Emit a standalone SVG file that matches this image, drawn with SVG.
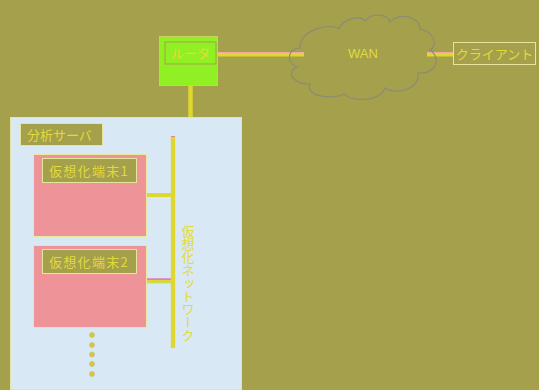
<svg xmlns="http://www.w3.org/2000/svg" width="539" height="390" viewBox="0 0 539 390">
<style>
.t{font-family:"Noto Sans CJK JP","Liberation Sans",sans-serif;font-size:13px;fill:#e2da3c;}
.lbl{fill:#a4a04c;stroke:#e4e49a;stroke-width:1;}
.vm{fill:#ee9499;stroke:#e8e8a0;stroke-width:1;}
.ln{stroke:#e0d630;fill:none;}
.dot{fill:#dcc82a;stroke:#b8b890;stroke-width:0.6;}
</style>
<rect width="539" height="390" fill="#a4a04c"/>
<g id="connectors">
<line class="ln" x1="218" y1="54.5" x2="304" y2="54.5" stroke-width="4"/>
<line x1="218" y1="52.5" x2="304" y2="52.5" stroke="#f0a8a0" stroke-width="1"/>
<line class="ln" x1="427" y1="54.5" x2="453" y2="54.5" stroke-width="4"/>
<line x1="427" y1="52.5" x2="453" y2="52.5" stroke="#f0a8a0" stroke-width="1"/>
<line class="ln" x1="190.5" y1="86" x2="190.5" y2="118" stroke-width="4.5"/>
</g>
<g id="router">
<rect x="159.5" y="36.5" width="58" height="49" fill="#90f024" stroke="#c8d060" stroke-width="1"/>
<rect x="165" y="42" width="51" height="22" fill="#90f024" stroke="#a4a04c" stroke-width="1"/>
<text class="t" x="190.5" y="58" text-anchor="middle">ルータ</text>
</g>
<g id="wan">
<path d="M300,48 C299,30 330,22 339,29 C343,18 362,15 365,21 C372,12 388,14 390,22 C398,12 420,16 420,29 C435,32 438,46 430,50 C442,58 436,75 418,73 C420,90 395,95 385,88 C380,102 350,102 345,94 C330,100 305,96 310,84 C290,84 287,70 297,67 C285,62 288,48 300,48 Z" fill="none" stroke="#8c8c74" stroke-width="1.2"/>
<text x="363" y="58" text-anchor="middle" font-family="Liberation Sans, Arial, sans-serif" font-size="13" fill="#e2da3c">WAN</text>
</g>
<g id="client">
<rect x="453.5" y="42.5" width="82" height="22" class="lbl"/>
<text class="t" x="494.5" y="58.5" text-anchor="middle" font-size="12">クライアント</text>
</g>
<g id="server">
<rect x="10.5" y="117.5" width="231" height="272" fill="#d8e8f4" stroke="#e4e4a8" stroke-width="1"/>
<rect x="20.5" y="123.5" width="82" height="22" class="lbl"/>
<text class="t" x="27" y="139.5">分析サーバ</text>
</g>
<g id="network">
<line class="ln" x1="146" y1="195" x2="172" y2="195" stroke-width="4"/>
<line class="ln" x1="146" y1="281" x2="172" y2="281" stroke-width="4"/>
<line x1="146" y1="279" x2="172" y2="279" stroke="#e048a8" stroke-width="1"/>
<line x1="146" y1="283" x2="172" y2="283" stroke="#a8e880" stroke-width="0.8"/>
<line class="ln" x1="173" y1="136" x2="173" y2="348" stroke-width="4.3"/>
<line x1="171" y1="136.5" x2="175" y2="136.5" stroke="#e08890" stroke-width="1"/>
<text class="t" x="188" y="225" font-size="12" style="writing-mode:vertical-rl;" letter-spacing="0">仮想化ネットワーク</text>
</g>
<g id="vm1">
<rect x="33.5" y="154.5" width="113" height="82" class="vm"/>
<rect x="42.5" y="158.5" width="94" height="24" class="lbl"/>
<text class="t" x="49" y="175.5" letter-spacing="1.3">仮想化端末1</text>
</g>
<g id="vm2">
<rect x="33.5" y="245.5" width="113" height="82" class="vm"/>
<rect x="42.5" y="249.5" width="94" height="24" class="lbl"/>
<text class="t" x="49" y="266.5" letter-spacing="1.3">仮想化端末2</text>
</g>
<g id="dots">
<circle class="dot" cx="92" cy="335" r="2.5"/>
<circle class="dot" cx="92" cy="345" r="2.5"/>
<circle class="dot" cx="92" cy="354.5" r="2.5"/>
<circle class="dot" cx="92" cy="364" r="2.5"/>
<circle class="dot" cx="92" cy="374" r="2.5"/>
</g>
</svg>
